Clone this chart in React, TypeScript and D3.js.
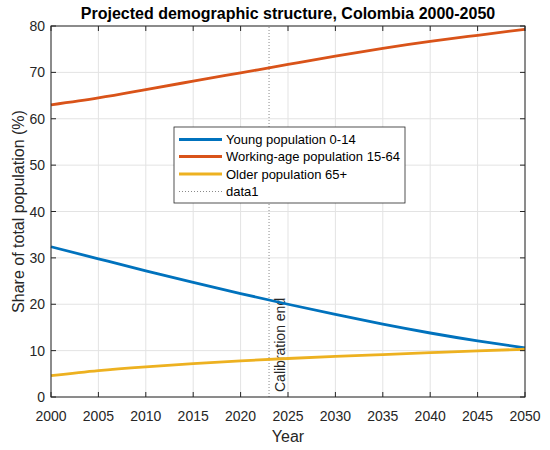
import React, { useRef, useEffect } from 'react';
import * as d3 from 'd3';

const years = [2000, 2005, 2010, 2015, 2020, 2025, 2030, 2035, 2040, 2045, 2050];
const youngShare = [32.4, 29.8, 27.2, 24.7, 22.3, 20.0, 17.8, 15.7, 13.8, 12.1, 10.6];
const workingShare = [63.0, 64.5, 66.3, 68.1, 69.9, 71.7, 73.5, 75.2, 76.7, 78.0, 79.3];
const olderShare = [4.6, 5.7, 6.5, 7.2, 7.8, 8.3, 8.75, 9.15, 9.55, 9.95, 10.3];

const seriesNames = ['Young population 0-14', 'Working-age population 15-64', 'Older population 65+'];
const seriesColors = ['#0072BD', '#D95319', '#EDB120'];
const calibrationYear = 2023;

const xTicks = [2000, 2005, 2010, 2015, 2020, 2025, 2030, 2035, 2040, 2045, 2050];
const yTicks = [0, 10, 20, 30, 40, 50, 60, 70, 80];

const W = 550;
const H = 450;
const margin = { top: 26, right: 25, bottom: 53, left: 51 };
const FONT = '"Liberation Sans", Arial, Helvetica, sans-serif';
const INK = '#262626';

const App: React.FC = () => {
    const svgRef = useRef<SVGSVGElement | null>(null);

    useEffect(() => {
        const svg = d3.select(svgRef.current);
        svg.selectAll('*').remove();

        const x = d3.scaleLinear().domain([2000, 2050]).range([margin.left, W - margin.right]);
        const y = d3.scaleLinear().domain([0, 80]).range([H - margin.bottom, margin.top]);

        const x0 = x.range()[0], x1 = x.range()[1];
        const y0 = y.range()[0], y1 = y.range()[1];

        svg.append('rect')
            .attr('x', x0).attr('y', y1)
            .attr('width', x1 - x0).attr('height', y0 - y1)
            .attr('fill', '#fff');

        // grid
        const grid = svg.append('g').attr('stroke', '#e3e3e3').attr('stroke-width', 1);
        xTicks.forEach(t => {
            grid.append('line').attr('x1', x(t)).attr('x2', x(t)).attr('y1', y0).attr('y2', y1);
        });
        yTicks.forEach(t => {
            grid.append('line').attr('x1', x0).attr('x2', x1).attr('y1', y(t)).attr('y2', y(t));
        });

        // calibration marker
        svg.append('line')
            .attr('x1', x(calibrationYear)).attr('x2', x(calibrationYear))
            .attr('y1', y0).attr('y2', y1)
            .attr('stroke', '#8a8a8a')
            .attr('stroke-width', 1)
            .attr('stroke-dasharray', '1,2');

        svg.append('text')
            .attr('transform', `translate(${x(calibrationYear) + 16},${y(0) - 5}) rotate(-90)`)
            .attr('font-family', FONT)
            .attr('font-size', 14)
            .attr('fill', INK)
            .text('Calibration end');

        // series
        const series = [youngShare, workingShare, olderShare];
        const line = d3.line<number>()
            .x((_, i) => x(years[i]))
            .y(d => y(d))
            .curve(d3.curveNatural);

        series.forEach((vals, i) => {
            svg.append('path')
                .attr('d', line(vals)!)
                .attr('fill', 'none')
                .attr('stroke', seriesColors[i])
                .attr('stroke-width', 2.8);
        });

        // axes box and ticks (all four sides, inward)
        const axes = svg.append('g').attr('stroke', INK).attr('stroke-width', 1);
        axes.append('rect')
            .attr('x', x0).attr('y', y1)
            .attr('width', x1 - x0).attr('height', y0 - y1)
            .attr('fill', 'none');
        const tl = 5;
        xTicks.forEach(t => {
            axes.append('line').attr('x1', x(t)).attr('x2', x(t)).attr('y1', y0).attr('y2', y0 - tl);
            axes.append('line').attr('x1', x(t)).attr('x2', x(t)).attr('y1', y1).attr('y2', y1 + tl);
        });
        yTicks.forEach(t => {
            axes.append('line').attr('x1', x0).attr('x2', x0 + tl).attr('y1', y(t)).attr('y2', y(t));
            axes.append('line').attr('x1', x1).attr('x2', x1 - tl).attr('y1', y(t)).attr('y2', y(t));
        });

        // tick labels
        svg.append('g')
            .selectAll('text')
            .data(xTicks)
            .enter()
            .append('text')
            .attr('x', d => x(d))
            .attr('y', y0 + 24)
            .attr('text-anchor', 'middle')
            .attr('font-family', FONT)
            .attr('font-size', 14)
            .attr('fill', INK)
            .text(d => d);

        svg.append('g')
            .selectAll('text')
            .data(yTicks)
            .enter()
            .append('text')
            .attr('x', x0 - 6)
            .attr('y', d => y(d) + 5)
            .attr('text-anchor', 'end')
            .attr('font-family', FONT)
            .attr('font-size', 14)
            .attr('fill', INK)
            .text(d => d);

        // labels and title
        svg.append('text')
            .attr('x', (x0 + x1) / 2)
            .attr('y', 442)
            .attr('text-anchor', 'middle')
            .attr('font-family', FONT)
            .attr('font-size', 16)
            .attr('fill', INK)
            .text('Year');

        svg.append('text')
            .attr('transform', `translate(24,${(y0 + y1) / 2}) rotate(-90)`)
            .attr('text-anchor', 'middle')
            .attr('font-family', FONT)
            .attr('font-size', 16)
            .attr('fill', INK)
            .text('Share of total population (%)');

        svg.append('text')
            .attr('x', (x0 + x1) / 2)
            .attr('y', 19)
            .attr('text-anchor', 'middle')
            .attr('font-family', FONT)
            .attr('font-size', 16)
            .attr('font-weight', 'bold')
            .attr('fill', '#000')
            .text('Projected demographic structure, Colombia 2000-2050');

        // legend
        const lg = svg.append('g').attr('transform', 'translate(174,127)');
        lg.append('rect')
            .attr('width', 231).attr('height', 76)
            .attr('fill', '#fff')
            .attr('stroke', INK)
            .attr('stroke-width', 0.8);
        const rowY = [12.5, 29.5, 47, 64.5];
        const entries = [...seriesNames, 'data1'];
        entries.forEach((name, i) => {
            const isMarker = i === 3;
            lg.append('line')
                .attr('x1', 5).attr('x2', 48)
                .attr('y1', rowY[i]).attr('y2', rowY[i])
                .attr('stroke', isMarker ? '#8a8a8a' : seriesColors[i])
                .attr('stroke-width', isMarker ? 1 : 2.8)
                .attr('stroke-dasharray', isMarker ? '1,2' : null);
            lg.append('text')
                .attr('x', 52)
                .attr('y', rowY[i] + 4.5)
                .attr('font-family', FONT)
                .attr('font-size', 13)
                .attr('fill', '#000')
                .text(name);
        });
    }, []);

    return (
        <svg ref={svgRef} width={W} height={H}
            style={{ position: 'absolute', left: 0, top: 0, background: '#fff' }}></svg>
    );
};

export default App;
